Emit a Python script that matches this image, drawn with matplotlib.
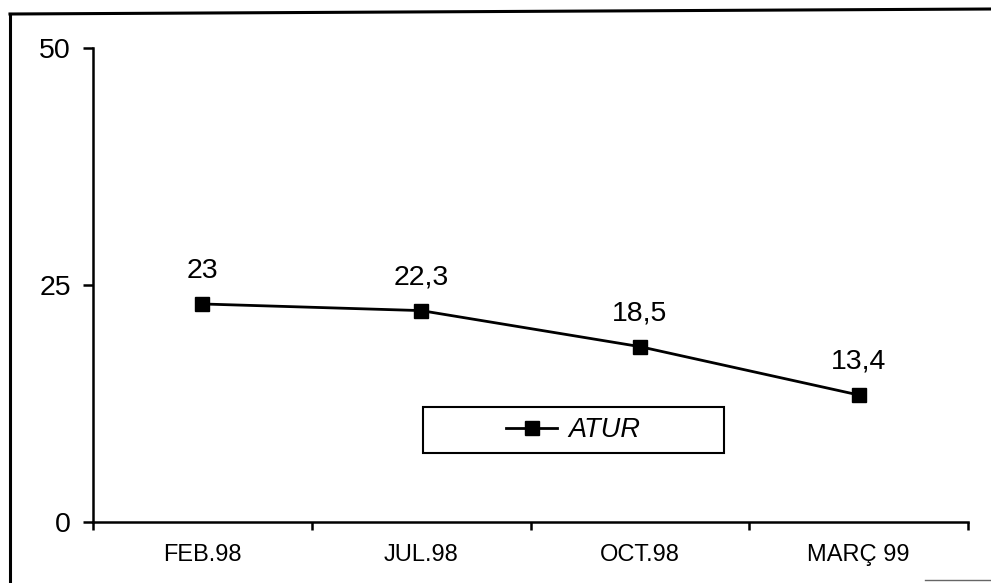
import matplotlib
matplotlib.use('Agg')
import matplotlib.pyplot as plt
from matplotlib.lines import Line2D
from matplotlib.patches import Rectangle

plt.rcParams['font.family'] = ['Liberation Sans', 'DejaVu Sans']

categories = ['FEB.98', 'JUL.98', 'OCT.98', 'MARÇ 99']
atur = [23, 22.3, 18.5, 13.4]
value_labels = ['23', '22,3', '18,5', '13,4']
yticks = [0, 25, 50]

W, H = 991, 583
fig = plt.figure(figsize=(W / 100, H / 100), dpi=100)

def fx(px):
    return px / W

def fy(py):
    return 1 - py / H

# scanned page frame (left + top, partial bottom)
fig.add_artist(Line2D([fx(10), fx(10)], [fy(14), 0], color='black', lw=2.2,
                      transform=fig.transFigure))
fig.add_artist(Line2D([fx(10), 1], [fy(14), fy(9)], color='black', lw=2.2,
                      transform=fig.transFigure))
fig.add_artist(Line2D([fx(925), 1], [fy(580), fy(580)], color='0.4', lw=1.0,
                      transform=fig.transFigure))

ax = fig.add_axes([fx(93), fy(522), fx(968) - fx(93), fy(48) - fy(522)])
x = list(range(len(categories)))
line, = ax.plot(x, atur, color='black', lw=2.0, marker='s', markersize=10,
                label='ATUR')

for xi, yi, lab in zip(x, atur, value_labels):
    ax.annotate(lab, (xi, yi), xytext=(0, 19), textcoords='offset points',
                ha='center', va='baseline', fontsize=20.5)

ax.set_xlim(-0.5, len(categories) - 0.5)
ax.set_ylim(0, 50)
ax.set_yticks(yticks)
ax.set_yticklabels([str(v) for v in yticks], fontsize=20.5)
ax.set_xticks([i - 0.5 for i in range(len(categories) + 1)])
ax.set_xticklabels([])
ax.set_xticks(x, minor=True)
ax.set_xticklabels(categories, minor=True, fontsize=17)
ax.tick_params(axis='x', which='minor', length=0, pad=16)
ax.tick_params(axis='x', which='major', length=6, width=1.8, direction='out')
ax.tick_params(axis='y', length=7, width=1.8, direction='out', pad=9)

for s in ['top', 'right']:
    ax.spines[s].set_visible(False)
for s in ['left', 'bottom']:
    ax.spines[s].set_linewidth(1.8)

# legend box
fig.add_artist(Rectangle((fx(423), fy(453)), fx(724) - fx(423), fy(407) - fy(453),
                         transform=fig.transFigure, fill=False, edgecolor='black',
                         lw=1.5))
leg = ax.legend(handles=[line], loc='center', frameon=False,
                bbox_to_anchor=(fx(573), fy(430)), bbox_transform=fig.transFigure,
                prop={'style': 'italic', 'size': 19.5}, handlelength=1.9,
                handletextpad=0.4, borderpad=0)

fig.savefig('out.png', dpi=100)
